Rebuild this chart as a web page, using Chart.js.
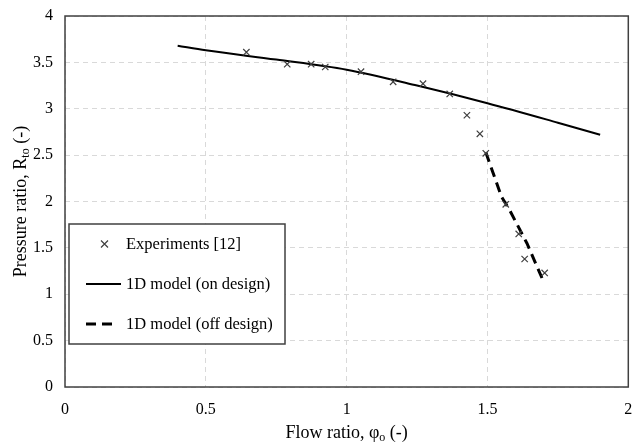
<!DOCTYPE html>
<html>
<head>
<meta charset="utf-8">
<script src="https://cdn.jsdelivr.net/npm/chart.js@4.4.1/dist/chart.umd.min.js"></script>
<style>
	html, body { margin: 0; padding: 0; background: #fff; }
	#wrap { width: 634px; height: 447px; }
</style>
</head>
<body>
<div id="wrap"><canvas id="chart"></canvas></div>
<script>
// experiments [12]
const expFlow = [0.644, 0.789, 0.874, 0.924, 1.051, 1.165, 1.271, 1.366, 1.427, 1.473, 1.494, 1.565, 1.611, 1.632, 1.703];
const expRatio = [3.61, 3.48, 3.48, 3.45, 3.40, 3.29, 3.27, 3.16, 2.93, 2.73, 2.52, 1.97, 1.65, 1.38, 1.23];

// 1D model, on design
const onFlow = [0.40, 0.50, 0.75, 1.00, 1.25, 1.50, 1.75, 1.90];
const onRatio = [3.68, 3.63, 3.53, 3.42, 3.25, 3.06, 2.85, 2.72];

// 1D model, off design
const offFlow = [1.494, 1.55, 1.58, 1.64, 1.70];
const offRatio = [2.53, 2.05, 1.90, 1.55, 1.13];

const xTicks = [0, 0.5, 1, 1.5, 2];
const yTicks = [0, 0.5, 1, 1.5, 2, 2.5, 3, 3.5, 4];

const serif = "'Liberation Serif', 'Times New Roman', serif";
const frameColor = "#404040";

function pts(xs, ys) {
	return xs.map(function(x, i) { return {x: x, y: ys[i]}; });
}

// frame, axis titles (with subscripts) and the boxed legend
const decorations = {
	id: "decorations",
	afterDraw: function(chart) {
		const ctx = chart.ctx;
		const a = chart.chartArea;
		ctx.save();
		ctx.strokeStyle = frameColor;
		ctx.lineWidth = 1.5;
		ctx.strokeRect(a.left, a.top, a.right - a.left, a.bottom - a.top);

		ctx.fillStyle = "#000";
		ctx.textBaseline = "alphabetic";

		// x title
		const xParts = [["Flow ratio, φ", 18, 0], ["o", 12, 3], [" (-)", 18, 0]];
		drawParts(ctx, xParts, (a.left + a.right) / 2, 438);

		// y title
		ctx.save();
		ctx.translate(26, (a.top + a.bottom) / 2);
		ctx.rotate(-Math.PI / 2);
		const yParts = [["Pressure ratio, R", 18, 0], ["to", 12, 3], [" (-)", 18, 0]];
		drawParts(ctx, yParts, 0, 0);
		ctx.restore();

		// legend
		const lx = 69, ly = 224, lw = 216, lh = 120;
		ctx.fillStyle = "#fff";
		ctx.fillRect(lx, ly, lw, lh);
		ctx.strokeStyle = frameColor;
		ctx.lineWidth = 1.5;
		ctx.strokeRect(lx, ly, lw, lh);

		const ds = chart.data.datasets;
		ctx.font = "16.5px " + serif;
		ctx.textBaseline = "middle";
		ctx.textAlign = "left";
		const rows = [ly + 20, ly + 60, ly + 100];

		// marker
		ctx.strokeStyle = ds[0].borderColor;
		ctx.lineWidth = 1.2;
		ctx.beginPath();
		ctx.moveTo(101, rows[0] - 3.5); ctx.lineTo(108, rows[0] + 3.5);
		ctx.moveTo(108, rows[0] - 3.5); ctx.lineTo(101, rows[0] + 3.5);
		ctx.stroke();

		ctx.strokeStyle = ds[1].borderColor;
		ctx.lineWidth = ds[1].borderWidth;
		ctx.beginPath();
		ctx.moveTo(86, rows[1]); ctx.lineTo(121, rows[1]);
		ctx.stroke();

		ctx.strokeStyle = ds[2].borderColor;
		ctx.lineWidth = ds[2].borderWidth;
		ctx.setLineDash([10, 6]);
		ctx.beginPath();
		ctx.moveTo(86, rows[2]); ctx.lineTo(118, rows[2]);
		ctx.stroke();
		ctx.setLineDash([]);

		ctx.fillStyle = "#000";
		for (let i = 0; i < 3; i++) {
			ctx.fillText(ds[i].label, 126, rows[i] + 1);
		}
		ctx.restore();
	}
};

function drawParts(ctx, parts, cx, baseY) {
	let total = 0;
	parts.forEach(function(p) {
		ctx.font = p[1] + "px " + serif;
		total += ctx.measureText(p[0]).width;
	});
	let x = cx - total / 2;
	ctx.textAlign = "left";
	parts.forEach(function(p) {
		ctx.font = p[1] + "px " + serif;
		ctx.fillText(p[0], x, baseY + p[2]);
		x += ctx.measureText(p[0]).width;
	});
}

function plainLabel(value) {
	return String(value);
}

new Chart(document.getElementById("chart"), {
	type: "scatter",
	data: {
		datasets: [
			{
				label: "Experiments [12]",
				data: pts(expFlow, expRatio),
				pointStyle: "crossRot",
				pointRadius: 4.5,
				borderColor: "#404040",
				backgroundColor: "#404040",
				pointBorderWidth: 1.2,
				showLine: false,
				order: 0,
			},
			{
				label: "1D model (on design)",
				data: pts(onFlow, onRatio),
				showLine: true,
				borderColor: "#000",
				borderWidth: 2,
				pointRadius: 0,
				cubicInterpolationMode: "monotone",
				order: 1,
			},
			{
				label: "1D model (off design)",
				data: pts(offFlow, offRatio),
				showLine: true,
				borderColor: "#000",
				borderWidth: 3,
				borderDash: [10, 6],
				pointRadius: 0,
				order: 2,
			},
		]
	},
	options: {
		responsive: true,
		maintainAspectRatio: false,
		animation: false,
		layout: {padding: {top: 16, right: 2, left: 0, bottom: 0}},
		plugins: {
			legend: {display: false},
			tooltip: {enabled: false},
		},
		scales: {
			x: {
				type: "linear",
				min: 0,
				max: 2,
				afterBuildTicks: function(scale) {
					scale.ticks = xTicks.map(function(v) { return {value: v}; });
				},
				afterFit: function(scale) {
					scale.height = 60;
					scale.paddingLeft = 0;
					scale.paddingRight = 0;
				},
				ticks: {
					font: {family: serif, size: 16},
					color: "#000",
					padding: 13,
					callback: plainLabel,
				},
				grid: {color: "#d9d9d9", lineWidth: 1, drawTicks: false},
				border: {display: false, dash: [5, 4]},
			},
			y: {
				type: "linear",
				min: 0,
				max: 4,
				afterBuildTicks: function(scale) {
					scale.ticks = yTicks.map(function(v) { return {value: v}; });
				},
				afterFit: function(scale) {
					scale.width = 65;
					scale.paddingTop = 0;
					scale.paddingBottom = 0;
				},
				ticks: {
					font: {family: serif, size: 16},
					color: "#000",
					padding: 12,
					callback: plainLabel,
				},
				grid: {color: "#d9d9d9", lineWidth: 1, drawTicks: false},
				border: {display: false, dash: [5, 4]},
			}
		}
	},
	plugins: [decorations],
});
</script>
</body>
</html>
